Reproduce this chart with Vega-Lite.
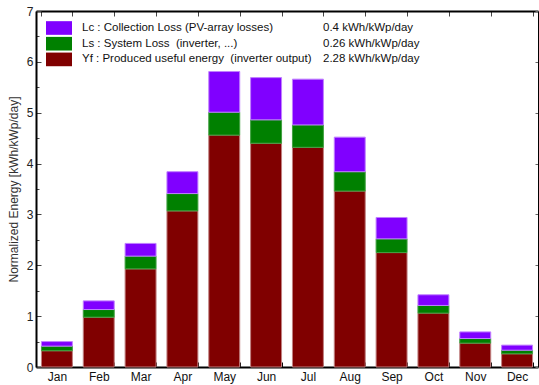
{
  "$schema": "https://vega.github.io/schema/vega-lite/v6.json",
  "width": 502,
  "height": 356,
  "autosize": {"type": "none"},
  "padding": {"left": 36, "top": 11, "right": 1, "bottom": 18},
  "background": "white",
  "config": {
    "font": "Liberation Sans",
    "view": {"stroke": null},
    "axis": {"labelFont": "Liberation Sans", "titleFont": "Liberation Sans", "labelColor": "#222", "titleColor": "#333", "grid": false},
    "legend": {"labelFont": "Liberation Sans"}
  },
  "data": {
    "values": [
      {"month": "Jan", "component": "Yf", "value": 0.32}, {"month": "Jan", "component": "Ls", "value": 0.09}, {"month": "Jan", "component": "Lc", "value": 0.09},
      {"month": "Feb", "component": "Yf", "value": 0.98}, {"month": "Feb", "component": "Ls", "value": 0.15}, {"month": "Feb", "component": "Lc", "value": 0.17},
      {"month": "Mar", "component": "Yf", "value": 1.93}, {"month": "Mar", "component": "Ls", "value": 0.25}, {"month": "Mar", "component": "Lc", "value": 0.25},
      {"month": "Apr", "component": "Yf", "value": 3.07}, {"month": "Apr", "component": "Ls", "value": 0.34}, {"month": "Apr", "component": "Lc", "value": 0.43},
      {"month": "May", "component": "Yf", "value": 4.56}, {"month": "May", "component": "Ls", "value": 0.45}, {"month": "May", "component": "Lc", "value": 0.80},
      {"month": "Jun", "component": "Yf", "value": 4.40}, {"month": "Jun", "component": "Ls", "value": 0.46}, {"month": "Jun", "component": "Lc", "value": 0.83},
      {"month": "Jul", "component": "Yf", "value": 4.32}, {"month": "Jul", "component": "Ls", "value": 0.44}, {"month": "Jul", "component": "Lc", "value": 0.90},
      {"month": "Aug", "component": "Yf", "value": 3.46}, {"month": "Aug", "component": "Ls", "value": 0.38}, {"month": "Aug", "component": "Lc", "value": 0.68},
      {"month": "Sep", "component": "Yf", "value": 2.25}, {"month": "Sep", "component": "Ls", "value": 0.27}, {"month": "Sep", "component": "Lc", "value": 0.42},
      {"month": "Oct", "component": "Yf", "value": 1.06}, {"month": "Oct", "component": "Ls", "value": 0.15}, {"month": "Oct", "component": "Lc", "value": 0.21},
      {"month": "Nov", "component": "Yf", "value": 0.47}, {"month": "Nov", "component": "Ls", "value": 0.09}, {"month": "Nov", "component": "Lc", "value": 0.13},
      {"month": "Dec", "component": "Yf", "value": 0.26}, {"month": "Dec", "component": "Ls", "value": 0.07}, {"month": "Dec", "component": "Lc", "value": 0.10}
    ]
  },
  "resolve": {"axis": {"x": "independent", "y": "independent"}, "scale": {"fill": "independent"}, "legend": {"fill": "independent"}},
  "layer": [
    {
      "mark": {"type": "bar", "strokeWidth": 1},
      "encoding": {
        "x": {
          "field": "month", "type": "nominal", "sort": null,
          "scale": {"paddingInner": 0.26, "paddingOuter": 0.13},
          "axis": {"orient": "bottom", "title": null, "labelAngle": 0, "labelFontSize": 12, "labelColor": "#111", "labelPadding": 9, "tickBand": "extent", "tickSize": -5, "tickColor": "#000", "tickWidth": 1, "domainColor": "#000", "domainWidth": 2}
        },
        "y": {
          "field": "value", "type": "quantitative", "aggregate": "sum",
          "scale": {"domain": [0, 7], "nice": false},
          "axis": {
            "orient": "left", "title": "Normalized Energy [kWh/kWp/day]", "titleFontSize": 12, "titleFontWeight": "normal", "titlePadding": 6,
            "values": [0, 0.5, 1, 1.5, 2, 2.5, 3, 3.5, 4, 4.5, 5, 5.5, 6, 6.5, 7],
            "labelExpr": "datum.value % 1 === 0 ? format(datum.value, 'd') : ''",
            "labelFontSize": 12, "labelPadding": 8, "labelColor": "#222",
            "tickSize": {"condition": {"test": "datum.value % 1 === 0", "value": -5}, "value": -3},
            "tickColor": "#444", "domainColor": "#000", "domainWidth": 2
          }
        },
        "fill": {
          "field": "component", "type": "nominal",
          "scale": {"domain": ["Lc", "Ls", "Yf"], "range": ["#8000ff", "#008000", "#800000"]},
          "legend": {
            "orient": "none", "legendX": 16.5, "legendY": 10.5, "title": null,
            "symbolType": "M-2,-1.05H2V1.05H-2Z", "symbolSize": 169, "symbolStrokeWidth": 0, "symbolOpacity": 1,
            "labelFontSize": 11.5, "labelColor": "#111", "labelOffset": 16.5, "rowPadding": 0.7, "labelLimit": 400,
            "labelExpr": "datum.label == 'Lc' ? 'Lc : Collection Loss (PV-array losses)' : datum.label == 'Ls' ? 'Ls : System Loss \u00a0(inverter, ...)' : 'Yf : Produced useful energy \u00a0(inverter output)'"
          }
        },
        "stroke": {
          "field": "component", "type": "nominal",
          "scale": {"domain": ["Lc", "Ls", "Yf"], "range": ["#c080ff", "#40a040", "#c08080"]},
          "legend": null
        },
        "order": {"field": "component", "sort": "descending"}
      }
    },
    {
      "mark": {"type": "bar", "opacity": 0},
      "encoding": {
        "x": {
          "field": "month", "type": "nominal", "sort": null,
          "axis": {"orient": "top", "title": null, "labels": false, "tickBand": "extent", "tickSize": -5, "tickColor": "#444", "domainColor": "#000", "domainWidth": 2}
        },
        "y": {
          "field": "value", "type": "quantitative", "aggregate": "sum",
          "axis": {"orient": "right", "title": null, "labels": false, "values": [0, 1, 2, 3, 4, 5, 6, 7], "tickSize": -3, "tickColor": "#666", "domainColor": "#000", "domainWidth": 1}
        },
        "fill": {
          "field": "component", "type": "nominal",
          "scale": {"domain": ["Lc", "Ls", "Yf"], "range": ["white", "white", "white"]},
          "legend": {
            "orient": "none", "legendX": 274, "legendY": 10.5, "title": null,
            "symbolType": "M-2,-1.05H2V1.05H-2Z", "symbolSize": 169, "symbolOpacity": 0, "symbolStrokeWidth": 0,
            "labelFontSize": 11.5, "labelColor": "#111", "labelOffset": 0, "rowPadding": 0.7, "labelLimit": 300,
            "labelExpr": "datum.label == 'Lc' ? '0.4 kWh/kWp/day' : datum.label == 'Ls' ? '0.26 kWh/kWp/day' : '2.28 kWh/kWp/day'"
          }
        }
      }
    }
  ]
}
